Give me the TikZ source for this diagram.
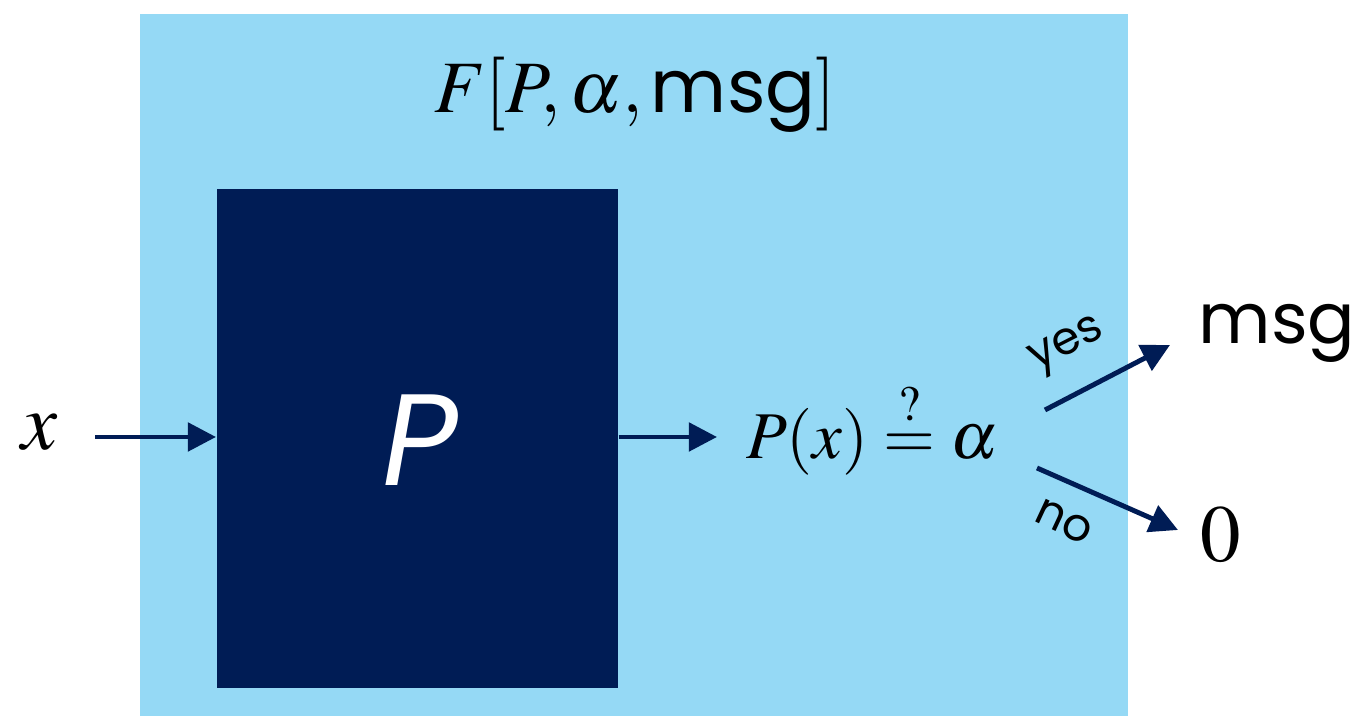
\documentclass[tikz,border=0pt]{standalone}
\usepackage{mathptmx}
\usepackage[no-math]{fontspec}
\setmainfont{Liberation Serif}
\newfontfamily\geo{Poppins}
\usetikzlibrary{arrows.meta}
\definecolor{lightbg}{HTML}{95D9F5}
\definecolor{navy}{HTML}{001C55}
\begin{document}
\begin{tikzpicture}[x=0.01cm,y=-0.01cm,
  conn/.style={draw=navy,line width=1.4pt,-{Triangle[length=8pt,width=8pt]}},
  mathtxt/.style={font=\fontsize{21}{25}\selectfont,inner sep=0pt},
  sanstxt/.style={font=\geo\fontsize{20}{24}\selectfont,inner sep=0pt},
  smalltxt/.style={font=\geo\fontsize{13}{15}\selectfont,inner sep=0pt}]
\useasboundingbox (0,0) rectangle (1359,716);
\fill[white] (0,0) rectangle (1359,716);
\node[fill=lightbg,inner sep=0pt,anchor=north west,minimum width=9.88cm,minimum height=7.03cm] (frame) at (139,13) {};
\node[fill=navy,inner sep=0pt,anchor=north west,minimum width=4.01cm,minimum height=4.99cm] (pbox) at (216,188) {};
\node[text=white,font=\geo\itshape\fontsize{37}{40}\selectfont] (plabel) at (420,440) {P};
\node[mathtxt] (title) at (635,95) {$F[P,\alpha,\mbox{\geo msg}]$};
\node[mathtxt,font=\fontsize{23}{27}\selectfont] (xin) at (40,432) {$x$};
\node[mathtxt,font=\fontsize{19}{23}\selectfont] (test) at (872,428) {$P(x)\stackrel{?}{=}\alpha$};
\node[sanstxt] (msg) at (1277,333) {msg};
\node[mathtxt,font=\fontsize{23}{27}\selectfont] (zero) at (1221,535) {$0$};
\coordinate (xs) at (95,437);
\coordinate (ys) at (1045,410);
\coordinate (ye) at (1170,345);
\coordinate (ns) at (1037,468);
\coordinate (ne) at (1178,530);
\draw[conn] (xs) -- (pbox.west |- xs);
\draw[conn] (pbox.east |- xs) -- (717,437) coordinate (te);
\draw[conn] (ys) -- (ye);
\draw[conn] (ns) -- (ne);
\node[smalltxt,rotate=27] (yes) at (1068,347) {yes};
\node[smalltxt,rotate=-25] (no) at (1064,522) {no};
\end{tikzpicture}
\end{document}
